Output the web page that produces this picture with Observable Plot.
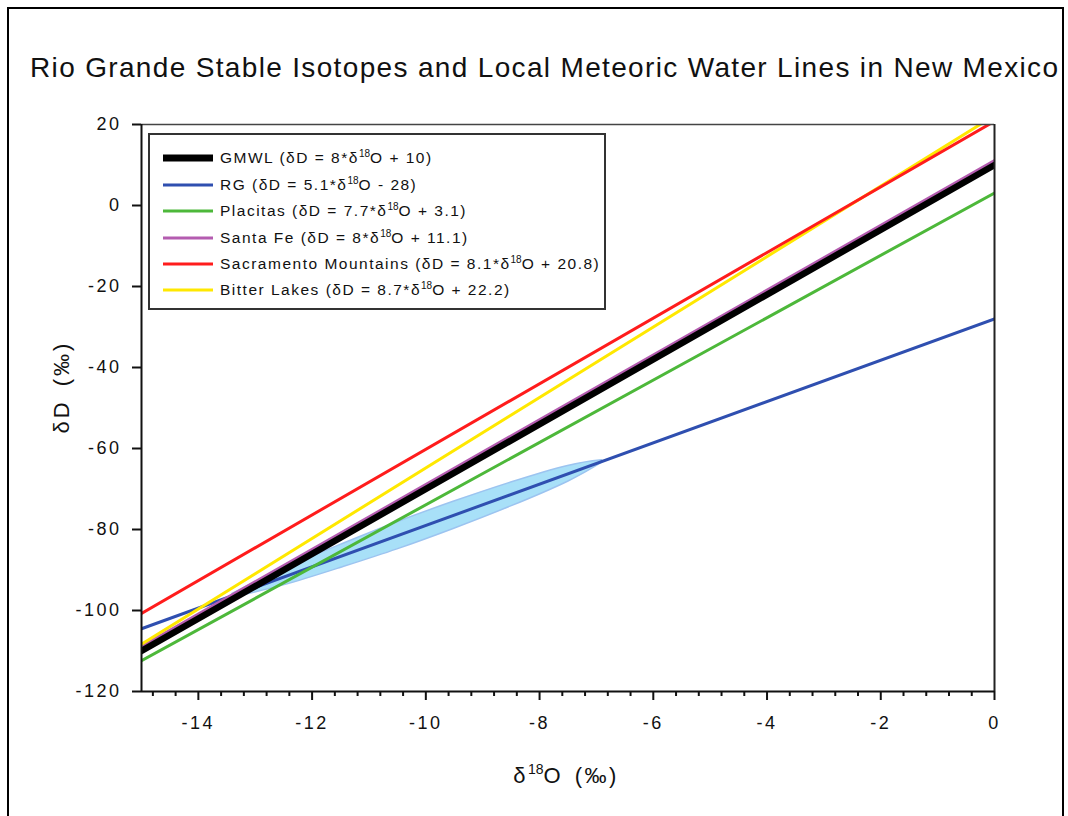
<!DOCTYPE html>
<html>
<head>
<meta charset="utf-8">
<script src="https://cdn.jsdelivr.net/npm/d3@7"></script>
<script src="https://cdn.jsdelivr.net/npm/@observablehq/plot@0.6"></script>
<style>
  html, body { margin: 0; padding: 0; background: #fff; }
  #wrap { position: relative; width: 1068px; height: 816px; overflow: hidden; font-family: "Liberation Sans", Arial, sans-serif; color: #111; }
  #frame { position: absolute; left: 7px; top: 7px; width: 1057px; height: 900px; border: 2px solid #000; box-sizing: border-box; }
  #title { position: absolute; left: 0; top: 40px; }
  #chart { position: absolute; left: 0; top: 110px; }
  #legend { position: absolute; left: 148px; top: 133px; width: 458px; height: 177px; border: 2px solid #333; box-sizing: border-box; background: #fff; }
  .row { position: absolute; left: 12px; height: 20px; display: flex; align-items: center; font-size: 15.5px; letter-spacing: 1.5px; white-space: nowrap; }
  .row svg { margin-right: 6px; }
  .row sup { font-size: 10px; letter-spacing: 0; vertical-align: 6px; line-height: 0; }
  #ylab { position: absolute; left: 62px; top: 387px; transform: translate(-50%, -50%) rotate(-90deg); font-size: 22px; letter-spacing: 3px; word-spacing: 4px; white-space: nowrap; }
  #xlab { position: absolute; left: 566px; top: 776px; transform: translate(-50%, -50%); font-size: 22px; letter-spacing: 2.5px; word-spacing: 3px; white-space: nowrap; }
  #xlab sup { font-size: 14px; letter-spacing: 0; vertical-align: 9px; line-height: 0; }
</style>
</head>
<body>
<div id="wrap">
  <div id="frame"></div>
  <div id="title"></div>
  <div id="chart"></div>
  <div id="legend"></div>
  <div id="ylab">δD (‰)</div>
  <div id="xlab">δ<sup>18</sup>O (‰)</div>
</div>
<script>
// ---- data ----
const titleText = "Rio Grande Stable Isotopes and Local Meteoric Water Lines in New Mexico";
const seriesNames = ["GMWL", "RG", "Placitas", "Santa Fe", "Sacramento Mountains", "Bitter Lakes"];
const seriesLabels = [
  "GMWL (δD = 8*δ<sup>18</sup>O + 10)",
  "RG (δD = 5.1*δ<sup>18</sup>O - 28)",
  "Placitas (δD = 7.7*δ<sup>18</sup>O + 3.1)",
  "Santa Fe (δD = 8*δ<sup>18</sup>O + 11.1)",
  "Sacramento Mountains (δD = 8.1*δ<sup>18</sup>O + 20.8)",
  "Bitter Lakes (δD = 8.7*δ<sup>18</sup>O + 22.2)"
];
const seriesColors = ["#000000", "#2f4fb0", "#4db83a", "#b45cb0", "#ff1c1c", "#ffe800"];
const seriesWidths = [6.5, 3, 3, 3, 3, 3];
const xStart = -15, xEnd = 0;
const yAtStart = [-110, -104.5, -112.4, -108.9, -100.7, -108.3];   // δD at δ18O = -15
const yAtEnd   = [10, -28, 3.1, 11.1, 20.8, 22.2];                  // δD at δ18O = 0
const drawOrder = [1, 2, 3, 0, 5, 4];

// RG scatter envelope (light blue band)
const bandX     = [-13.4, -12.5, -11.5, -10.5, -9.5, -8.5, -7.5, -6.9];
const bandUpper = [-95.9, -89.7, -83.8, -78.2, -73.1, -68.4, -64.3, -62.9];
const bandLower = [-96.8, -93.8, -89.5, -84.9, -79.8, -74.3, -68.2, -63.5];

const xMajorTicks = [-14, -12, -10, -8, -6, -4, -2, 0];
const xMinorTicks = [-14.8,-14.4,-13.6,-13.2,-12.8,-12.4,-11.6,-11.2,-10.8,-10.4,-9.6,-9.2,-8.8,-8.4,-7.6,-7.2,-6.8,-6.4,-5.6,-5.2,-4.8,-4.4,-3.6,-3.2,-2.8,-2.4,-1.6,-1.2,-0.8,-0.4];
const yTicks = [20, 0, -20, -40, -60, -80, -100, -120];

// ---- title ----
const tsvg = d3.select("#title").append("svg").attr("width", 1068).attr("height", 50);
tsvg.append("text")
  .attr("x", 30).attr("y", 37)
  .attr("textLength", 1028).attr("lengthAdjust", "spacing")
  .style("font-family", "'Liberation Sans', Arial, sans-serif")
  .style("font-size", "28px").attr("fill", "#111")
  .text(titleText);

// ---- chart ----
const lineRows = [];
seriesNames.forEach((n, i) => {
  lineRows.push({name: n, x: xStart, y: yAtStart[i]});
  lineRows.push({name: n, x: xEnd, y: yAtEnd[i]});
});
const band = bandX.map((x, i) => ({x, lo: bandLower[i], hi: bandUpper[i]}));

const lineMarks = drawOrder.map(i =>
  Plot.line(lineRows.filter(d => d.name === seriesNames[i]), {
    x: "x", y: "y", stroke: seriesColors[i], strokeWidth: seriesWidths[i], clip: true
  })
);

const chart = Plot.plot({
  width: 1068,
  height: 631,
  marginLeft: 141,
  marginRight: 74,
  marginTop: 14,
  marginBottom: 50,
  x: {domain: [-15, 0], label: null},
  y: {domain: [-120, 20], label: null},
  style: {fontFamily: "'Liberation Sans', Arial, sans-serif", fontSize: "18px", background: "transparent", color: "#111", overflow: "visible"},
  marks: [
    Plot.areaY(band, {x: "x", y1: "lo", y2: "hi", fill: "#a8e0f8", stroke: "#9cc4f0", strokeWidth: 1.5, curve: "natural", clip: true}),
    ...lineMarks,
    Plot.ruleY([20], {stroke: "#444", strokeWidth: 1.5}),
    Plot.ruleX([0], {stroke: "#222", strokeWidth: 2}),
    Plot.ruleX([-15], {stroke: "#111", strokeWidth: 2}),
    Plot.ruleY([-120], {stroke: "#111", strokeWidth: 2}),
    Plot.axisX({ticks: xMinorTicks, tickSize: 5, strokeWidth: 2, tickFormat: () => ""}),
    Plot.axisX({ticks: xMajorTicks, tickSize: 9, strokeWidth: 2, tickPadding: 16, tickFormat: d => String(d)}),
    Plot.axisY({ticks: yTicks, tickSize: 9, strokeWidth: 2, tickPadding: 11, tickFormat: d => String(d)})
  ]
});
d3.select(chart).selectAll("g[aria-label$='tick label']")
  .attr("font-size", null)
  .style("font-size", "18px")
  .style("letter-spacing", "2.5px");
document.getElementById("chart").appendChild(chart);

// ---- legend ----
const legend = d3.select("#legend");
const rowCenters = [25, 51.5, 78, 105, 131, 157];
seriesNames.forEach((n, i) => {
  const row = legend.append("div").attr("class", "row").style("top", (rowCenters[i] - 10 - 2) + "px");
  const s = row.append("svg").attr("width", 52).attr("height", 10);
  s.append("line").attr("x1", 1).attr("x2", 51).attr("y1", 5).attr("y2", 5)
    .attr("stroke", seriesColors[i]).attr("stroke-width", i === 0 ? 7 : 3);
  row.append("span").html(seriesLabels[i]);
});
</script>
</body>
</html>
